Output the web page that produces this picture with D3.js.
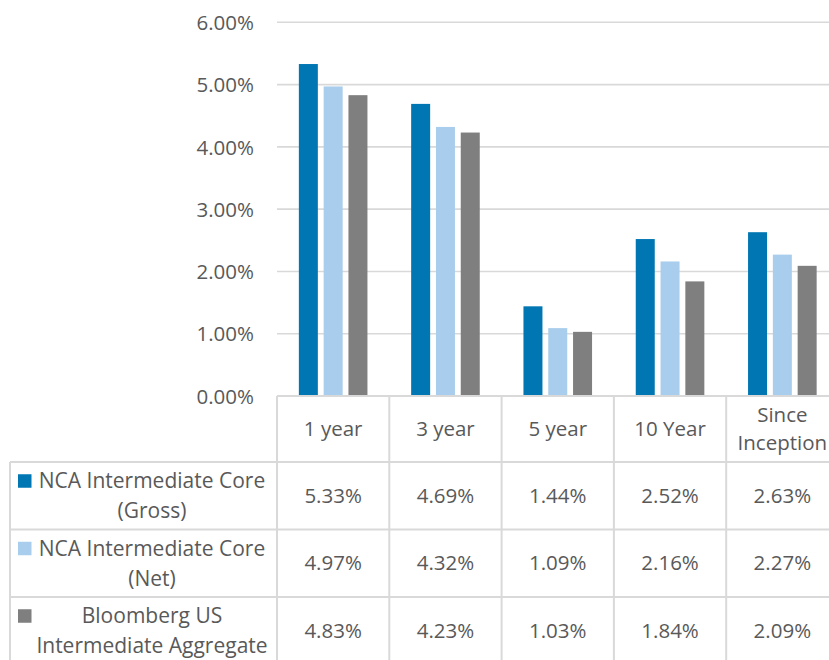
<!DOCTYPE html>
<html>
<head>
<meta charset="utf-8">
<script src="https://cdn.jsdelivr.net/npm/d3@7"></script>
<style>
  html, body { margin: 0; padding: 0; background: #ffffff; }
  svg { display: block; }
  text { font-family: "Open Sans", "Liberation Sans", sans-serif; fill: #595959; }
</style>
</head>
<body>
<svg id="chart" width="829" height="660"></svg>
<script>
const categories = ["1 year", "3 year", "5 year", "10 Year", "Since Inception"];
const seriesNames = ["NCA Intermediate Core\n(Gross)", "NCA Intermediate Core\n(Net)", "Bloomberg US\nIntermediate Aggregate"];
const grossValues = [5.33, 4.69, 1.44, 2.52, 2.63];
const netValues = [4.97, 4.32, 1.09, 2.16, 2.27];
const benchmarkValues = [4.83, 4.23, 1.03, 1.84, 2.09];
const yTicks = [0, 1, 2, 3, 4, 5, 6];
const seriesColors = ["#0077b3", "#a9cdec", "#7f7f7f"];

const seriesValues = [grossValues, netValues, benchmarkValues];

const svg = d3.select("#chart");
const W = 829, H = 660;
const plotLeft = 277, colW = 112.3;
const plotRight = plotLeft + categories.length * colW;
const yTop = 22.3, yZero = 396;
const headerBottom = 462, rowH = 67.5;
const tableLeft = 10;
const gridColor = "#d9d9d9";
const fontSize = 20.5;
const legendFontSize = 21;

const x0 = d3.scaleBand().domain(categories).range([plotLeft, plotRight]).padding(0);
const x1 = d3.scaleBand().domain(d3.range(seriesNames.length)).range([-34.3, 34.3]).paddingInner(0.234).paddingOuter(0);
const y = d3.scaleLinear().domain([0, 6]).range([yZero, yTop]);

// gridlines
svg.append("g").selectAll("line").data(yTicks.filter(d => d > 0)).join("line")
  .attr("x1", plotLeft).attr("x2", W)
  .attr("y1", d => y(d)).attr("y2", d => y(d))
  .attr("stroke", gridColor).attr("stroke-width", 1.6);

// y axis labels
const yAxis = d3.axisLeft(y).tickValues(yTicks).tickFormat(d => d3.format(".2f")(d) + "%").tickSize(0).tickPadding(0);
const yg = svg.append("g").attr("transform", `translate(254,0)`).call(yAxis);
yg.select(".domain").remove();
yg.selectAll("text").attr("font-size", fontSize).attr("font-family", null).attr("fill", "#595959").attr("dy", "0.35em");

// bars
const groups = svg.append("g").selectAll("g").data(categories).join("g")
  .attr("transform", d => `translate(${x0(d) + x0.bandwidth() / 2},0)`);
groups.selectAll("rect").data((d, i) => seriesValues.map((s, k) => ({ k, v: s[i] }))).join("rect")
  .attr("x", d => x1(d.k)).attr("width", x1.bandwidth())
  .attr("y", d => y(d.v)).attr("height", d => y(0) - y(d.v))
  .attr("fill", d => seriesColors[d.k]);

// table lines
const tbl = svg.append("g").attr("stroke", gridColor).attr("stroke-width", 2);
tbl.append("line").attr("x1", plotLeft).attr("x2", W).attr("y1", yZero).attr("y2", yZero);
for (let r = 0; r < seriesNames.length + 1; r++) {
  const yy = headerBottom + r * rowH;
  tbl.append("line").attr("x1", tableLeft).attr("x2", W).attr("y1", yy).attr("y2", yy);
}
tbl.append("line").attr("x1", tableLeft).attr("x2", tableLeft).attr("y1", headerBottom).attr("y2", H);
categories.forEach(c => {
  tbl.append("line").attr("x1", x0(c)).attr("x2", x0(c)).attr("y1", yZero).attr("y2", H);
});

// header labels (wrap if too wide)
const hdr = svg.append("g");
categories.forEach(c => {
  const cx = x0(c) + x0.bandwidth() / 2;
  const t = hdr.append("text").attr("font-size", fontSize).attr("text-anchor", "middle").text(c);
  let lines = [c];
  if (t.node().getComputedTextLength() > x0.bandwidth() - 4) lines = c.split(" ");
  t.text(null);
  const lh = 28.5;
  const cy = (yZero + headerBottom) / 2;
  lines.forEach((ln, i) => {
    t.append("tspan").attr("x", cx).attr("y", cy + (i - (lines.length - 1) / 2) * lh).attr("dy", "0.35em").text(ln);
  });
});

// rows: legend + values
seriesNames.forEach((name, r) => {
  const top = headerBottom + r * rowH;
  const cy = top + rowH / 2;
  const lines = name.split("\n");
  const lh = 30;
  const firstY = cy - (lines.length - 1) / 2 * lh;
  svg.append("rect").attr("x", 18).attr("y", firstY - 6.5).attr("width", 13.5).attr("height", 13.5).attr("fill", seriesColors[r]);
  const t = svg.append("text").attr("font-size", legendFontSize).attr("text-anchor", "middle");
  lines.forEach((ln, i) => {
    t.append("tspan").attr("x", 152).attr("y", firstY + i * lh).attr("dy", "0.35em").text(ln);
  });
  categories.forEach((c, i) => {
    svg.append("text").attr("font-size", fontSize).attr("text-anchor", "middle")
      .attr("x", x0(c) + x0.bandwidth() / 2).attr("y", cy).attr("dy", "0.35em")
      .text(d3.format(".2f")(seriesValues[r][i]) + "%");
  });
});
</script>
</body>
</html>
